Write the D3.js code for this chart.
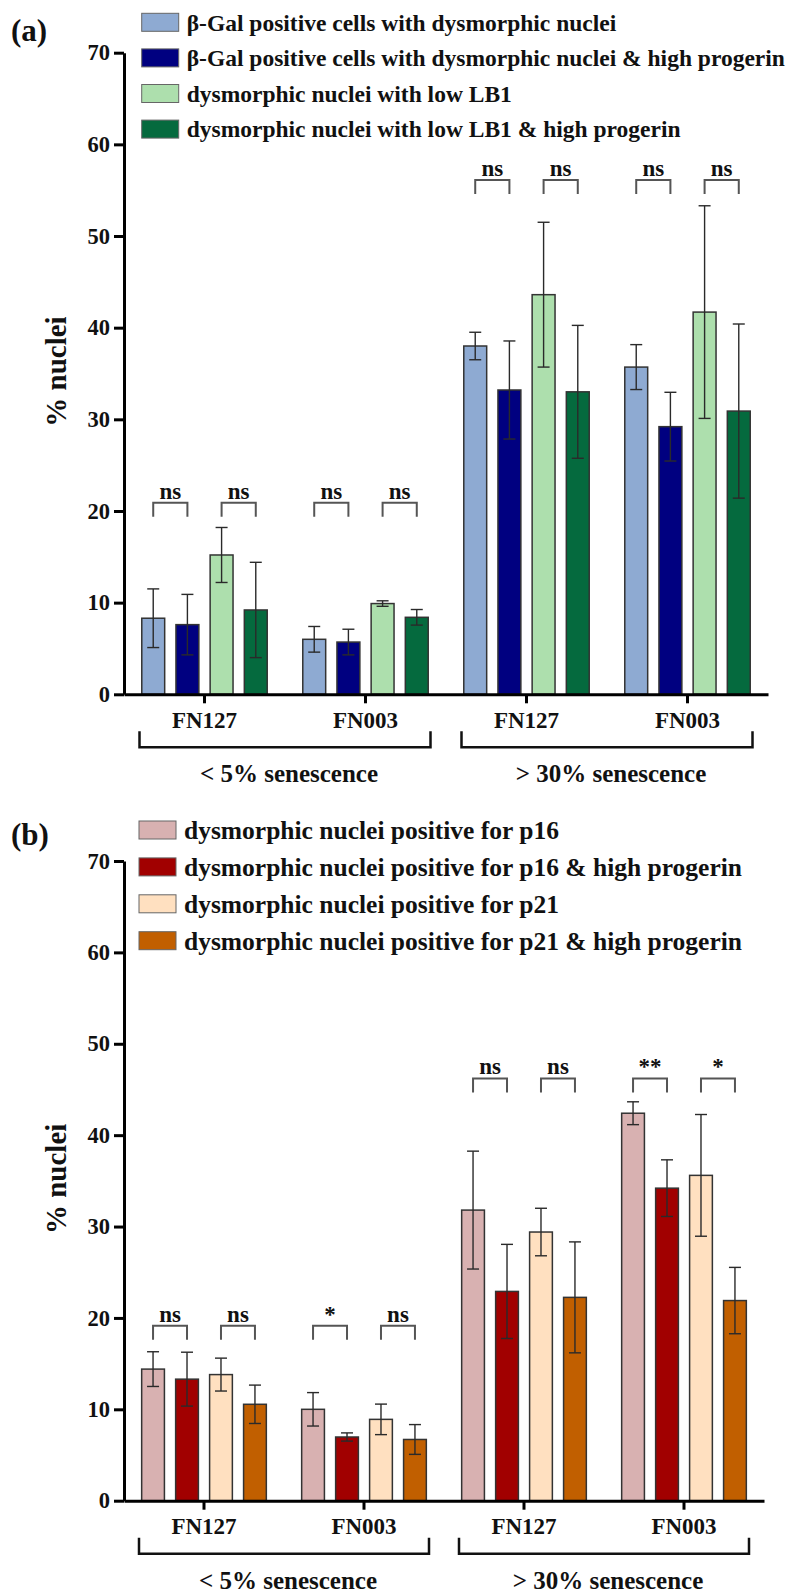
<!DOCTYPE html>
<html>
<head>
<meta charset="utf-8">
<script src="https://cdn.jsdelivr.net/npm/d3@7"></script>
<style>
  body { margin: 0; background: #fff; }
  svg text { font-family: "Liberation Serif", "Times New Roman", serif; font-weight: bold; fill: #111; }
</style>
</head>
<body>
<svg id="chart" width="794" height="1592"></svg>
<script>
// Shared categories
const groupNames = ["FN127", "FN003", "FN127", "FN003"];
const senescenceLabels = ["< 5% senescence", "> 30% senescence"];
const yTicks = [0, 10, 20, 30, 40, 50, 60, 70];

// Panel (a)
const seriesA = [
  "\u03B2-Gal positive cells with dysmorphic nuclei",
  "\u03B2-Gal positive cells with dysmorphic nuclei & high progerin",
  "dysmorphic nuclei with low LB1",
  "dysmorphic nuclei with low LB1 & high progerin"
];
const meansA = [
  [8.3, 7.6, 15.2, 9.2],
  [6.0, 5.7, 9.9, 8.4],
  [38.0, 33.2, 43.6, 33.0],
  [35.7, 29.2, 41.7, 30.9]
];
const errorsA = [
  [3.2, 3.3, 3.0, 5.2],
  [1.4, 1.4, 0.3, 0.85],
  [1.5, 5.35, 7.9, 7.25],
  [2.45, 3.75, 11.6, 9.5]
];
const sigA = [["ns", "ns"], ["ns", "ns"], ["ns", "ns"], ["ns", "ns"]];
const sigLevelA = [20.9, 20.9, 56.1, 56.1];

// Panel (b)
const seriesB = [
  "dysmorphic nuclei positive for p16",
  "dysmorphic nuclei positive for p16 & high progerin",
  "dysmorphic nuclei positive for p21",
  "dysmorphic nuclei positive for p21 & high progerin"
];
const meansB = [
  [14.4, 13.3, 13.8, 10.55],
  [10.0, 6.97, 8.9, 6.7],
  [31.8, 22.9, 29.4, 22.25],
  [42.4, 34.2, 35.6, 21.9]
];
const errorsB = [
  [1.9, 2.95, 1.8, 2.1],
  [1.83, 0.45, 1.67, 1.63],
  [6.45, 5.15, 2.6, 6.07],
  [1.25, 3.1, 6.66, 3.63]
];
const sigB = [["ns", "ns"], ["*", "ns"], ["ns", "ns"], ["**", "*"]];
const sigLevelB = [19.15, 19.15, 46.2, 46.2];

// Colours
const colorsA = ["#8eaad2", "#000080", "#addfad", "#056a3e"];
const colorsB = ["#d8b1b1", "#a10000", "#ffe0c0", "#c15f00"];

const svg = d3.select("#chart");

function drawPanel(p) {
  const g = svg.append("g");

  const y = d3.scaleLinear().domain([0, 70]).range([p.y0, p.y70]);
  const xGroup = d3.scaleBand().domain(d3.range(groupNames.length)).range([p.xLeft, p.xRight]);
  const xInner = d3.scaleBand().domain(d3.range(4))
    .range([0, xGroup.bandwidth()])
    .paddingInner(0.33)
    .paddingOuter(0.52);
  const barCenter = (gi, si) => xGroup(gi) + xInner(si) + xInner.bandwidth() / 2;

  // Bars
  p.means.forEach((row, gi) => {
    g.selectAll(null)
      .data(row)
      .enter()
      .append("rect")
      .attr("x", (d, si) => xGroup(gi) + xInner(si))
      .attr("y", d => y(d))
      .attr("width", xInner.bandwidth())
      .attr("height", d => p.y0 - y(d))
      .attr("fill", (d, si) => p.colors[si])
      .attr("stroke", "#333")
      .attr("stroke-width", 1.5);

    // Error bars
    const eb = g.selectAll(null)
      .data(row.map((m, si) => ({ m, e: p.errors[gi][si], si })))
      .enter()
      .append("g")
      .attr("stroke", "#2a2a2a")
      .attr("stroke-width", 1.4);
    eb.append("line")
      .attr("x1", d => barCenter(gi, d.si)).attr("x2", d => barCenter(gi, d.si))
      .attr("y1", d => y(d.m + d.e)).attr("y2", d => y(d.m - d.e));
    [1, -1].forEach(s => {
      eb.append("line")
        .attr("x1", d => barCenter(gi, d.si) - 6).attr("x2", d => barCenter(gi, d.si) + 6)
        .attr("y1", d => y(d.m + s * d.e)).attr("y2", d => y(d.m + s * d.e));
    });

    // Significance brackets
    p.sig[gi].forEach((label, k) => {
      const x1 = barCenter(gi, 2 * k);
      const x2 = barCenter(gi, 2 * k + 1);
      const yb = y(p.sigLevel[gi]);
      g.append("path")
        .attr("d", `M${x1},${yb + 14}V${yb}H${x2}V${yb + 14}`)
        .attr("fill", "none")
        .attr("stroke", "#555")
        .attr("stroke-width", 2);
      g.append("text")
        .attr("x", (x1 + x2) / 2)
        .attr("y", yb - 4)
        .attr("text-anchor", "middle")
        .style("font-size", "23px")
        .text(label);
    });
  });

  // Y axis
  const yAxis = g.append("g")
    .attr("transform", `translate(${p.xLeft},0)`)
    .call(d3.axisLeft(y).tickValues(yTicks).tickSize(10).tickPadding(4).tickSizeOuter(0));
  yAxis.select(".domain").attr("stroke", "#000").attr("stroke-width", 3);
  yAxis.selectAll(".tick line").attr("stroke", "#000").attr("stroke-width", 3);
  yAxis.selectAll(".tick text").attr("font-family", null).attr("font-size", null)
    .style("font-size", "22.5px").attr("fill", "#222");
  yAxis.attr("font-family", null).attr("font-size", null);

  // X axis
  const xAxis = g.append("g")
    .attr("transform", `translate(0,${p.y0})`)
    .call(d3.axisBottom(xGroup).tickFormat(i => groupNames[i]).tickSize(9).tickPadding(8).tickSizeOuter(0));
  xAxis.select(".domain").attr("stroke", "#000").attr("stroke-width", 3);
  xAxis.selectAll(".tick line").attr("stroke", "#000").attr("stroke-width", 3);
  xAxis.selectAll(".tick text").attr("font-family", null).attr("font-size", null)
    .style("font-size", "23px").attr("fill", "#222");
  xAxis.attr("font-family", null).attr("font-size", null);

  // Senescence brackets
  senescenceLabels.forEach((label, k) => {
    const xa = xGroup(2 * k) + xGroup.bandwidth() / 2 - 65;
    const xb = xGroup(2 * k + 1) + xGroup.bandwidth() / 2 + 65;
    g.append("path")
      .attr("d", `M${xa},${p.y0 + 37}V${p.y0 + 53}H${xb}V${p.y0 + 37}`)
      .attr("fill", "none")
      .attr("stroke", "#111")
      .attr("stroke-width", 2.5);
    g.append("text")
      .attr("x", (xa + xb) / 2 + 4)
      .attr("y", p.y0 + 88)
      .attr("text-anchor", "middle")
      .style("font-size", "25px")
      .text(label);
  });

  // Y label
  g.append("text")
    .attr("transform", `translate(66,${(p.y0 + p.y70) / 2 - 2}) rotate(-90)`)
    .attr("text-anchor", "middle")
    .style("font-size", "29px")
    .text("% nuclei");

  // Panel tag
  g.append("text")
    .attr("x", 11)
    .attr("y", p.tagY)
    .style("font-size", "31px")
    .text(p.tag);

  // Legend
  const legend = g.selectAll(null)
    .data(p.series)
    .enter()
    .append("g")
    .attr("transform", (d, i) => `translate(${p.legendX},${p.legendY + i * p.legendStep})`);
  legend.append("rect")
    .attr("width", 37)
    .attr("height", 18)
    .attr("fill", (d, i) => p.colors[i])
    .attr("stroke", "#666")
    .attr("stroke-width", 1);
  legend.append("text")
    .attr("x", 45)
    .attr("y", 9)
    .attr("dy", "0.35em")
    .style("font-size", p.legendFont)
    .text(d => d);
}

drawPanel({
  tag: "(a)", tagY: 41,
  series: seriesA, colors: colorsA, means: meansA, errors: errorsA,
  sig: sigA, sigLevel: sigLevelA,
  y0: 694.3, y70: 52.7, xLeft: 124, xRight: 768,
  legendX: 141.7, legendY: 13.3, legendStep: 35.6, legendFont: "23.5px"
});

drawPanel({
  tag: "(b)", tagY: 845,
  series: seriesB, colors: colorsB, means: meansB, errors: errorsB,
  sig: sigB, sigLevel: sigLevelB,
  y0: 1500.7, y70: 861, xLeft: 124, xRight: 764,
  legendX: 139, legendY: 821, legendStep: 36.9, legendFont: "25.5px"
});
</script>
</body>
</html>
